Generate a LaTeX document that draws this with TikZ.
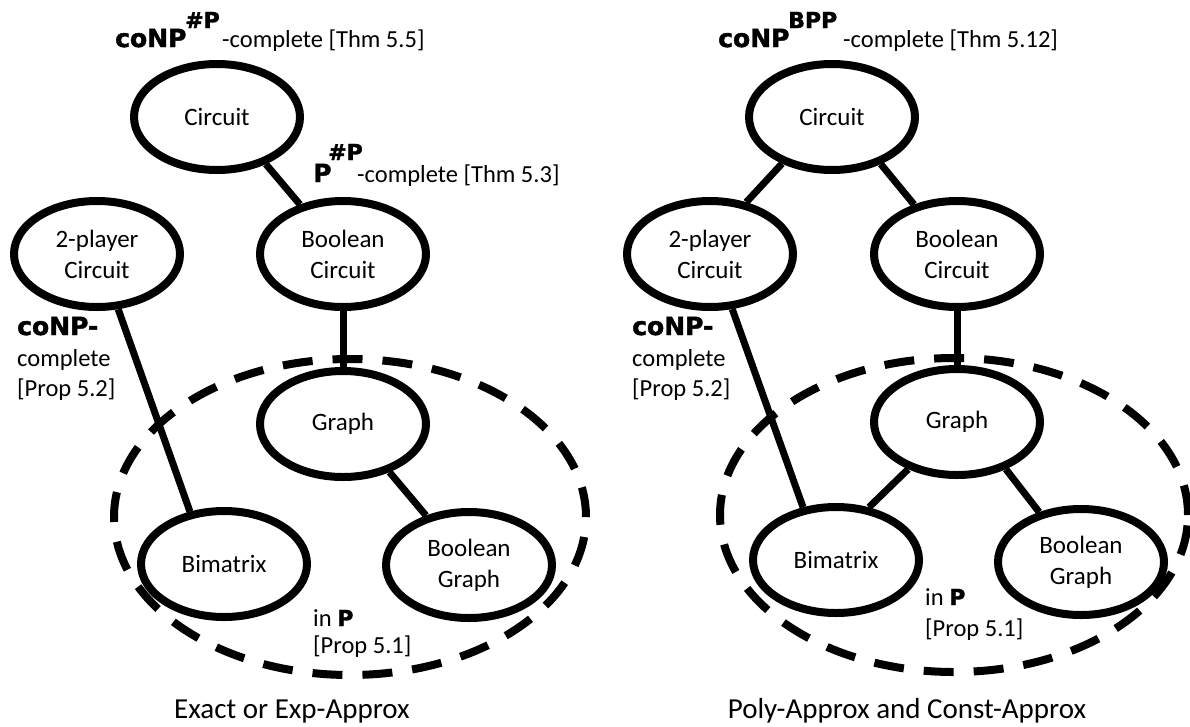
\documentclass[tikz,border=0pt]{standalone}
\usepackage{fontspec}
\setmainfont{Carlito}
\newfontfamily\heavyfont{DejaVu Sans}[BoldFeatures={FakeBold=1.6}]
\usetikzlibrary{shapes.geometric}
\tikzset{
  elli/.style={ellipse, draw, line width=8pt, minimum width=166pt, minimum height=106pt, inner sep=0pt, align=center, font=\fontsize{25}{31}\selectfont},
  conn/.style={line width=7pt},
  region/.style={ellipse, draw, line width=8pt, dash pattern=on 30pt off 20pt, inner sep=0pt},
  lbl/.style={anchor=base west, inner sep=0pt, font=\fontsize{24.5}{30}\selectfont},
  hv/.style={anchor=base west, inner sep=0pt, font=\heavyfont\bfseries\fontsize{25}{30}\selectfont},
  supr/.style={anchor=base west, inner sep=0pt, font=\heavyfont\bfseries\fontsize{22}{26}\selectfont},
  ttl/.style={anchor=base, inner sep=0pt, font=\fontsize{29}{34}\selectfont},
}
\begin{document}
\begin{tikzpicture}[x=1pt, y=-1pt]
\useasboundingbox (0,0) rectangle (1190,726);
% ---------- left panel ----------
\node[region, minimum width=472pt, minimum height=316pt] (R1) at (350,517) {};
\node[elli] (C1) at (217,117) {Circuit};
\node[elli] (P1) at (97,254) {2-player\\Circuit};
\node[elli] (B1) at (343,254) {Boolean\\Circuit};
\node[elli] (G1) at (343,424) {Graph};
\node[elli] (M1) at (224,564) {Bimatrix};
\node[elli] (BG1) at (469,565) {Boolean\\Graph};
\draw[conn] (C1.-44) -- (B1.131);
\draw[conn] (P1.-69) -- (M1.123);
\draw[conn] (B1.south) -- (G1.north);
\draw[conn] (G1.-46) -- (BG1.131);
\node[hv] (l1a) at (115,47) {coNP};
\node[supr] (l1b) at (185,28) {\#P};
\node[lbl] (l1c) at (222,47) {-complete [Thm 5.5]};
\node[hv] (l2a) at (313,182) {P};
\node[supr] (l2b) at (328,160) {\#P};
\node[lbl] (l2c) at (357,182) {-complete [Thm 5.3]};
\node[hv] (l3a) at (17,335) {coNP-};
\node[lbl] (l3b) at (17,366) {complete};
\node[lbl] (l3c) at (17,396) {[Prop 5.2]};
\node[lbl] (l4a) at (313,626) {in {\heavyfont\bfseries\fontsize{22}{24}\selectfont P}};
\node[lbl] (l4b) at (313,653) {[Prop 5.1]};
\node[ttl] (t1) at (292,718) {Exact or Exp-Approx};
% ---------- right panel ----------
\node[region, minimum width=468pt, minimum height=314pt] (R2) at (954,515) {};
\node[elli] (C2) at (832,117) {Circuit};
\node[elli] (P2) at (710,254) {2-player\\Circuit};
\node[elli] (B2) at (957,254) {Boolean\\Circuit};
\node[elli] (G2) at (957,422) {Graph};
\node[elli] (M2) at (836,560) {Bimatrix};
\node[elli] (BG2) at (1081,562) {Boolean\\Graph};
\draw[conn] (C2.-137) -- (P2.55);
\draw[conn] (C2.-44) -- (B2.131);
\draw[conn] (B2.south) -- (G2.north);
\draw[conn] (P2.-68) -- (M2.122);
\draw[conn] (M2.58) -- (G2.224);
\draw[conn] (G2.-44) -- (BG2.130);
\node[hv] (r1a) at (718,47) {coNP};
\node[supr] (r1b) at (788,28) {BPP};
\node[lbl] (r1c) at (843,47) {-complete [Thm 5.12]};
\node[hv] (r3a) at (632,335) {coNP-};
\node[lbl] (r3b) at (632,366) {complete};
\node[lbl] (r3c) at (632,396) {[Prop 5.2]};
\node[lbl] (r4a) at (925,605) {in {\heavyfont\bfseries\fontsize{22}{24}\selectfont P}};
\node[lbl] (r4b) at (925,636) {[Prop 5.1]};
\node[ttl] (t2) at (907,718) {Poly-Approx and Const-Approx};
\end{tikzpicture}
\end{document}
